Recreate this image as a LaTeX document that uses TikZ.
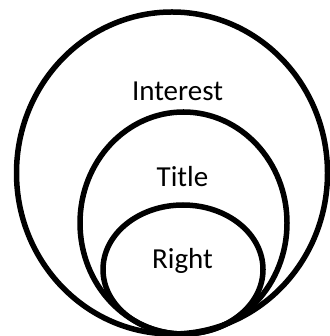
\documentclass[tikz,border=0pt]{standalone}
\usepackage{fontspec}
\setmainfont{Carlito}
\usetikzlibrary{shapes.geometric}
\begin{document}
\begin{tikzpicture}[x=1pt,y=1pt,
  ring/.style={draw=black, line width=5.5pt, ellipse, inner sep=0pt, outer sep=0pt},
  lbl/.style={anchor=base, inner sep=0pt, font=\fontsize{29}{34}\selectfont}]
\useasboundingbox (0,0) rectangle (329,336);
\node[ring, minimum width=311pt, minimum height=322pt] (outer) at (172,163) {};
\node[ring, minimum width=207pt, minimum height=222pt] (middle) at (183.5,113) {};
\node[ring, minimum width=160pt, minimum height=129pt] (inner) at (183,66.5) {};
\node[lbl] (interest) at (177.5,235) {Interest};
\node[lbl] (title) at (182.5,149) {Title};
\node[lbl] (right) at (182.5,67) {Right};
\end{tikzpicture}
\end{document}
